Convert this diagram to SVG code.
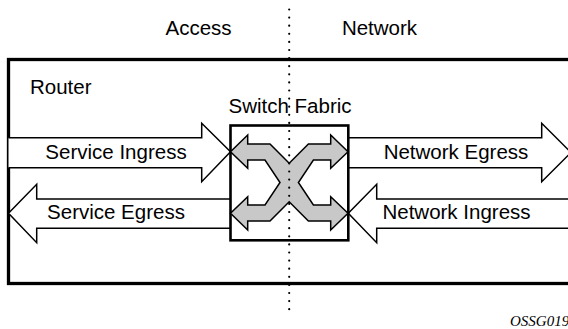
<svg xmlns="http://www.w3.org/2000/svg" width="568" height="329" viewBox="0 0 568 329">
<style>
.lbl{font-family:"Liberation Sans",Arial,sans-serif;font-size:20.5px;fill:#000;text-anchor:middle}
.blk{fill:#fff;stroke:#000;stroke-width:1.5;stroke-linejoin:miter}
.xfab{fill:#c8c8c8;stroke:#000;stroke-width:1.5;stroke-linejoin:miter}
</style>
<rect width="568" height="329" fill="#fff"/>
<g id="router">
<rect x="8.5" y="59.5" width="580" height="224" fill="#fff" stroke="#000" stroke-width="3.3"/>
<text class="lbl" x="30" y="93.5" style="text-anchor:start">Router</text>
</g>
<g id="domain-labels">
<text class="lbl" x="198.5" y="35">Access</text>
<text class="lbl" x="379.5" y="35">Network</text>
</g>
<g id="connectors">
<g id="service-ingress">
<path class="blk" d="M8.5,137.7 H201.7 V123.3 L230.5,151.7 L201.7,181.7 V167.7 H8.5"/>
<text class="lbl" x="116" y="158.5">Service Ingress</text>
</g>
<g id="service-egress">
<path class="blk" d="M230.5,199 H36.7 V184.3 L8.5,213.3 L36.7,242.7 V228.3 H230.5"/>
<text class="lbl" x="116" y="219">Service Egress</text>
</g>
<g id="network-egress">
<path class="blk" d="M348.3,137.7 H541.7 V123.3 L571,152.5 L541.7,181.7 V167.7 H348.3"/>
<text class="lbl" x="456" y="158.5">Network Egress</text>
</g>
<g id="network-ingress">
<path class="blk" d="M580,199 H376.7 V184.3 L348.3,213.3 L376.7,242.7 V228.3 H580"/>
<text class="lbl" x="456.5" y="219">Network Ingress</text>
</g>
</g>
<g id="switch-fabric">
<text class="lbl" x="290" y="112.5">Switch Fabric</text>
<rect x="230.5" y="125.5" width="117.8" height="114.8" fill="#fff" stroke="#000" stroke-width="2.6"/>
<path class="xfab" d="M230.5,151.7 L247.7,135 V144 H270 L289.2,163.3 L308.4,144 H330.7 V135 L348,151.7 L330.7,168.3 V160 H313.4 L298.4,182.5 L313.4,205 H330.7 V196.7 L348,213.3 L330.7,230 V221 H308.4 L289.2,201.7 L270,221 H247.7 V230 L230.5,213.3 L247.7,196.7 V205 H265 L280,182.5 L265,160 H247.7 V168.3 Z"/>
</g>
<g id="divider">
<line x1="289.2" y1="9.5" x2="289.2" y2="316" stroke="#000" stroke-width="2.2" stroke-linecap="round" stroke-dasharray="0 8.1"/>
</g>
<text x="510" y="326" style="font-family:'Liberation Serif','Times New Roman',serif;font-style:italic;font-size:15px;fill:#000">OSSG019</text>
</svg>
